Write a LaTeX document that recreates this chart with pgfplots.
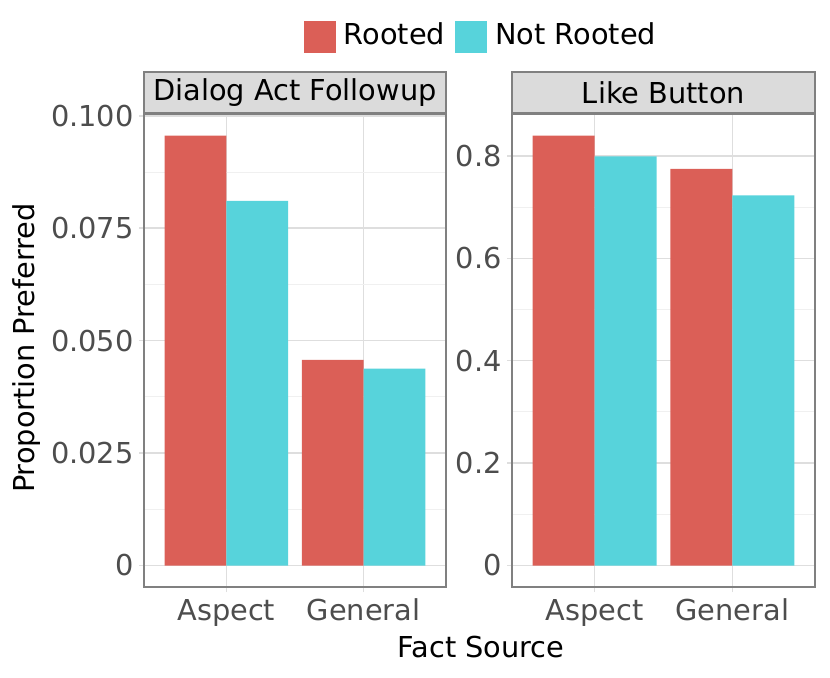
\documentclass[border=0pt]{standalone}
\usepackage{fontspec}
\setmainfont{DejaVu Sans}
\usepackage{pgfplots}
\pgfplotsset{compat=1.18}
\definecolor{rooted}{HTML}{DB5F57}
\definecolor{notrooted}{HTML}{57D3DB}
\definecolor{gridmaj}{HTML}{DEDEDE}
\definecolor{gridmin}{HTML}{F0F0F0}
\definecolor{bordergrey}{HTML}{808080}
\definecolor{stripfill}{HTML}{DBDBDB}
\definecolor{ticktext}{HTML}{4D4D4D}
\newcommand{\chartfont}{\fontsize{14.4}{17}\selectfont}
\pgfplotsset{
  panel/.style={
    scale only axis,
    height=236.5pt,
    xmin=0.4, xmax=2.6,
    xtick={1,2}, xticklabels={Aspect,General},
    axis line style={draw=bordergrey, line width=1pt},
    tick pos=left,
    tick align=outside,
    major tick length=2.5pt,
    minor tick length=0pt,
    major tick style={draw=gridmaj, line width=0.75pt},
    minor tick style={draw=none},
    xmajorgrids, ymajorgrids, yminorgrids,
    minor y tick num=1,
    major grid style={draw=gridmaj, line width=0.75pt},
    minor grid style={draw=gridmin, line width=0.5pt},
    tick label style={font=\chartfont, text=ticktext},
    yticklabel style={anchor=east, inner sep=0pt, xshift=-2.5pt},
    xticklabel style={anchor=north, inner sep=0pt, text height=10.5pt, yshift=-3.5pt},
    scaled y ticks=false,
    every axis title/.style={at={(0.5,1)}, anchor=south, inner sep=0pt,
      fill=stripfill, draw=bordergrey, line width=1pt,
      minimum height=20.5pt, font=\chartfont, text=black},
  }
}
\begin{document}
\begin{tikzpicture}
\useasboundingbox (0,0) rectangle (415pt,338.5pt);
\begin{axis}[panel,
  at={(72pt,45pt)}, anchor=south west,
  width=151pt,
  title style={minimum width=151pt},
  title={Dialog Act Followup},
  ymin=-0.00478, ymax=0.1004,
  ytick={0,0.025,0.05,0.075,0.1},
  yticklabels={0,0.025,0.050,0.075,0.100},
  legend columns=2,
  legend style={at={(1.1126,1.1628)}, anchor=center, draw=none, fill=none,
    font=\chartfont, inner sep=0pt,
    nodes={inner sep=0pt},
    /tikz/every odd column/.append style={column sep=4pt},
    /tikz/every even column/.append style={column sep=5pt, nodes={yshift=4.5pt}}},
  legend image code/.code={\fill[#1] (0pt,-4.5pt) rectangle (16pt,11.5pt);},
]
\addplot[ybar, bar width=0.45, bar shift=-0.225, fill=rooted, draw=none]
  coordinates {(1,0.0956) (2,0.0457)};
\addlegendentry{Rooted}
\addplot[ybar, bar width=0.45, bar shift=0.225, fill=notrooted, draw=none]
  coordinates {(1,0.0811) (2,0.0438)};
\addlegendentry{Not Rooted}
\end{axis}
\begin{axis}[panel,
  at={(256pt,45pt)}, anchor=south west,
  width=151.5pt,
  title style={minimum width=151.5pt},
  title={Like Button},
  ymin=-0.042, ymax=0.882,
  ytick={0,0.2,0.4,0.6,0.8},
  yticklabels={0,0.2,0.4,0.6,0.8},
]
\addplot[ybar, bar width=0.45, bar shift=-0.225, fill=rooted, draw=none]
  coordinates {(1,0.840) (2,0.775)};
\addplot[ybar, bar width=0.45, bar shift=0.225, fill=notrooted, draw=none]
  coordinates {(1,0.799) (2,0.723)};
\end{axis}
\node[rotate=90, anchor=center, font=\chartfont] at (13.5pt,164.5pt) {Proportion Preferred};
\node[anchor=center, font=\chartfont] at (240.5pt,15pt) {Fact Source};
\end{tikzpicture}
\end{document}
